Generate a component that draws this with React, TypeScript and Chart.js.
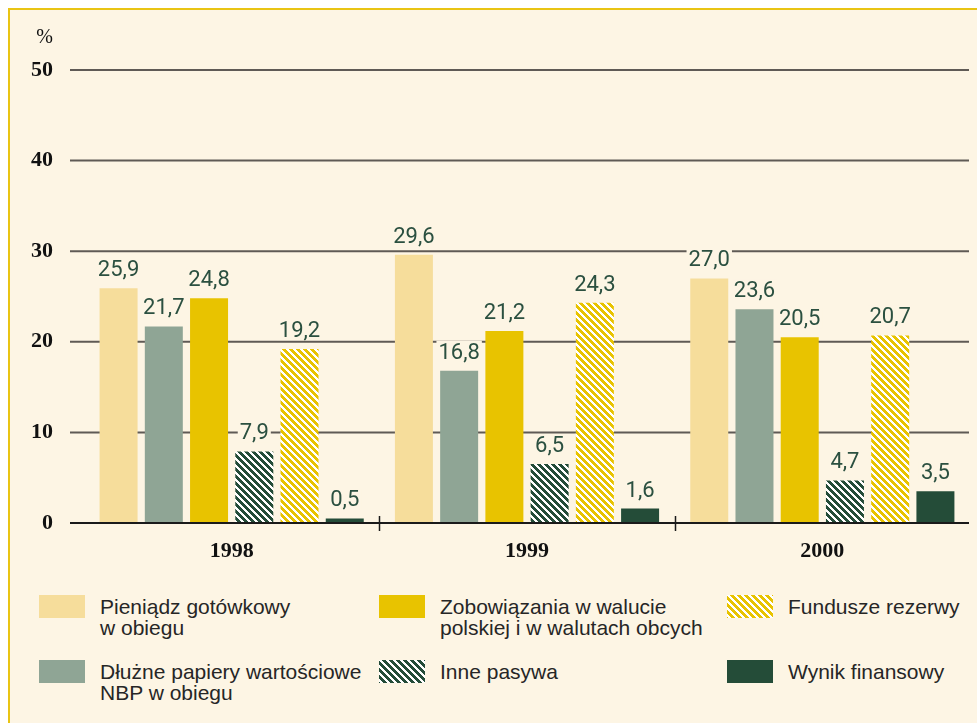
import React, { useEffect, useRef } from 'react';
import { Chart, registerables } from 'chart.js';

Chart.register(...registerables);

// ---- data ----
const years = ['1998', '1999', '2000'];
const cashInCirculation = [25.9, 29.6, 27.0];
const nbpDebtSecurities = [21.7, 16.8, 23.6];
const liabilitiesPlnFx = [24.8, 21.2, 20.5];
const otherLiabilities = [7.9, 6.5, 4.7];
const reserveFunds = [19.2, 24.3, 20.7];
const financialResult = [0.5, 1.6, 3.5];
const yTicks = [0, 10, 20, 30, 40, 50];
const yUnit = '%';

const nameCash = ['Pieniądz gotówkowy', 'w obiegu'];
const nameDebt = ['Dłużne papiery wartościowe', 'NBP w obiegu'];
const nameLiab = ['Zobowiązania w walucie', 'polskiej i w walutach obcych'];
const nameOther = ['Inne pasywa'];
const nameReserve = ['Fundusze rezerwy'];
const nameResult = ['Wynik finansowy'];

// ---- styles ----
const BG = '#fdf5e4';
const C_BEIGE = '#f6dd9b';
const C_GRAYGREEN = '#8fa595';
const C_YELLOW = '#e8c300';
const C_DKGREEN = '#244c38';
const LABEL_COLOR = '#2b5040';

type Fill = { color: string; hatch: boolean; white: number };

function makePatternCanvas(color: string, white: number) {
  const p = 7;
  const c = document.createElement('canvas');
  c.width = p;
  c.height = p;
  const g = c.getContext('2d')!;
  g.fillStyle = color;
  g.fillRect(0, 0, p, p);
  g.fillStyle = '#ffffff';
  for (let y = 0; y < p; y++) {
    for (let x = 0; x < p; x++) {
      if ((((x - y) % p) + p) % p < white) g.fillRect(x, y, 1, 1);
    }
  }
  return c;
}

function fillStyleFor(ctx: CanvasRenderingContext2D, f: Fill): string | CanvasPattern {
  if (!f.hatch) return f.color;
  return ctx.createPattern(makePatternCanvas(f.color, f.white), 'repeat')!;
}

const fills: Record<string, Fill> = {
  cash: { color: C_BEIGE, hatch: false, white: 0 },
  debt: { color: C_GRAYGREEN, hatch: false, white: 0 },
  liab: { color: C_YELLOW, hatch: false, white: 0 },
  other: { color: C_DKGREEN, hatch: true, white: 3 },
  reserve: { color: C_YELLOW, hatch: true, white: 3 },
  result: { color: C_DKGREEN, hatch: false, white: 0 },
};

const fmt = (v: number) => v.toFixed(1).replace('.', ',');

const GRID_LEFT = 70;
const GRID_RIGHT = 969;

const decorPlugin = {
  id: 'decor',
  beforeDatasetsDraw(chart: any) {
    const ctx: CanvasRenderingContext2D = chart.ctx;
    const y = chart.scales.y;
    ctx.save();
    yTicks.forEach((v) => {
      if (v === 0) return;
      const py = y.getPixelForValue(v);
      ctx.strokeStyle = '#5f5a55';
      ctx.lineWidth = 2;
      ctx.beginPath();
      ctx.moveTo(GRID_LEFT, py);
      ctx.lineTo(GRID_RIGHT, py);
      ctx.stroke();
    });
    ctx.fillStyle = '#111';
    ctx.font = '20px "Liberation Serif"';
    ctx.textAlign = 'right';
    ctx.textBaseline = 'alphabetic';
    ctx.fillText(yUnit, 53, 43);
    ctx.restore();
  },
  afterDatasetsDraw(chart: any) {
    const ctx: CanvasRenderingContext2D = chart.ctx;
    const x = chart.scales.x;
    const y = chart.scales.y;
    ctx.save();
    // zero axis
    const py0 = y.getPixelForValue(0);
    ctx.strokeStyle = '#1a1a1a';
    ctx.lineWidth = 2;
    ctx.beginPath();
    ctx.moveTo(GRID_LEFT, py0);
    ctx.lineTo(GRID_RIGHT, py0);
    ctx.stroke();
    // group separators
    ctx.lineWidth = 1.5;
    for (let i = 0; i < years.length - 1; i++) {
      const sx = Math.round((x.getPixelForValue(i) + x.getPixelForValue(i + 1)) / 2) + 0.5;
      ctx.beginPath();
      ctx.moveTo(sx, py0 - 7);
      ctx.lineTo(sx, py0 + 8);
      ctx.stroke();
    }
    // value labels
    ctx.font = '22px Roboto';
    ctx.textAlign = 'center';
    ctx.textBaseline = 'alphabetic';
    chart.data.datasets.forEach((ds: any, di: number) => {
      const meta = chart.getDatasetMeta(di);
      meta.data.forEach((el: any, i: number) => {
        const txt = fmt(ds.data[i]);
        const base = el.y - 12;
        const w = ctx.measureText(txt).width;
        ctx.fillStyle = BG;
        ctx.fillRect(el.x - w / 2 - 2, base - 18, w + 4, 21);
        ctx.fillStyle = LABEL_COLOR;
        ctx.fillText(txt, el.x, base);
      });
    });
    ctx.restore();
  },
};

function Swatch({ fill, left, top }: { fill: Fill; left: number; top: number }) {
  const ref = useRef<HTMLCanvasElement>(null);
  useEffect(() => {
    const c = ref.current!;
    const g = c.getContext('2d')!;
    g.fillStyle = fillStyleFor(g, fill) as any;
    g.fillRect(0, 0, c.width, c.height);
  }, [fill]);
  return (
    <canvas
      ref={ref}
      width={46}
      height={23}
      style={{ position: 'absolute', left, top, width: 46, height: 23, display: 'block' }}
    />
  );
}

const legendItems: { fill: Fill; lines: string[]; sx: number; tx: number; sy: number }[] = [
  { fill: fills.cash, lines: nameCash, sx: 39, tx: 100, sy: 595 },
  { fill: fills.debt, lines: nameDebt, sx: 39, tx: 100, sy: 660 },
  { fill: fills.liab, lines: nameLiab, sx: 379, tx: 440, sy: 595 },
  { fill: fills.other, lines: nameOther, sx: 379, tx: 440, sy: 660 },
  { fill: fills.reserve, lines: nameReserve, sx: 727, tx: 788, sy: 595 },
  { fill: fills.result, lines: nameResult, sx: 727, tx: 788, sy: 660 },
];

export default function App() {
  const canvasRef = useRef<HTMLCanvasElement>(null);

  useEffect(() => {
    const canvas = canvasRef.current!;
    const ctx = canvas.getContext('2d')!;
    const mk = (label: string, data: number[], f: Fill) => ({
      label,
      data,
      backgroundColor: fillStyleFor(ctx, f),
      borderWidth: 0,
      categoryPercentage: 0.919,
      barPercentage: 0.84,
    });
    const chart = new Chart(canvas, {
      type: 'bar',
      data: {
        labels: years,
        datasets: [
          mk(nameCash.join(' '), cashInCirculation, fills.cash),
          mk(nameDebt.join(' '), nbpDebtSecurities, fills.debt),
          mk(nameLiab.join(' '), liabilitiesPlnFx, fills.liab),
          mk(nameOther.join(' '), otherLiabilities, fills.other),
          mk(nameReserve.join(' '), reserveFunds, fills.reserve),
          mk(nameResult.join(' '), financialResult, fills.result),
        ] as any,
      },
      options: {
        responsive: false,
        animation: false,
        devicePixelRatio: 1,
        layout: { padding: { left: 0, right: 7, top: 70, bottom: 0 } },
        plugins: {
          legend: { display: false },
          tooltip: { enabled: false },
        },
        scales: {
          x: {
            type: 'category',
            grid: { display: false, drawTicks: false },
            border: { display: false },
            ticks: {
              font: { family: '"Liberation Serif"', size: 22, weight: 'bold' },
              color: '#111',
              padding: 15,
            },
            afterFit: (s: any) => {
              s.height = 57;
            },
          },
          y: {
            min: 0,
            max: 50,
            afterBuildTicks: (s: any) => {
              s.ticks = yTicks.map((v) => ({ value: v }));
            },
            grid: { display: false, drawTicks: false },
            border: { display: false },
            ticks: {
              font: { family: '"Liberation Serif"', size: 22, weight: 'bold' },
              color: '#111',
              padding: 31,
            },
            afterFit: (s: any) => {
              s.width = 84;
            },
          },
        },
      } as any,
      plugins: [decorPlugin],
    });
    return () => chart.destroy();
  }, []);

  return (
    <div
      style={{
        position: 'fixed',
        left: 0,
        top: 0,
        width: 977,
        height: 723,
        background: '#ffffff',
        overflow: 'hidden',
      }}
    >
      <div
        style={{
          position: 'absolute',
          left: 8,
          top: 8,
          right: 0,
          bottom: 0,
          background: BG,
          borderTop: '2px solid #e9c414',
          borderLeft: '2px solid #e9c414',
        }}
      />
      <canvas
        ref={canvasRef}
        width={977}
        height={580}
        style={{ position: 'absolute', left: 0, top: 0, width: 977, height: 580 }}
      />
      {legendItems.map((it, i) => (
        <React.Fragment key={i}>
          <Swatch fill={it.fill} left={it.sx} top={it.sy} />
          <div
            style={{
              position: 'absolute',
              left: it.tx,
              top: it.sy + 1,
              fontFamily: '"Liberation Sans", Arial, sans-serif',
              fontSize: 21,
              lineHeight: '21px',
              color: '#262626',
              whiteSpace: 'nowrap',
            }}
          >
            {it.lines.map((l, j) => (
              <div key={j}>{l}</div>
            ))}
          </div>
        </React.Fragment>
      ))}
    </div>
  );
}
